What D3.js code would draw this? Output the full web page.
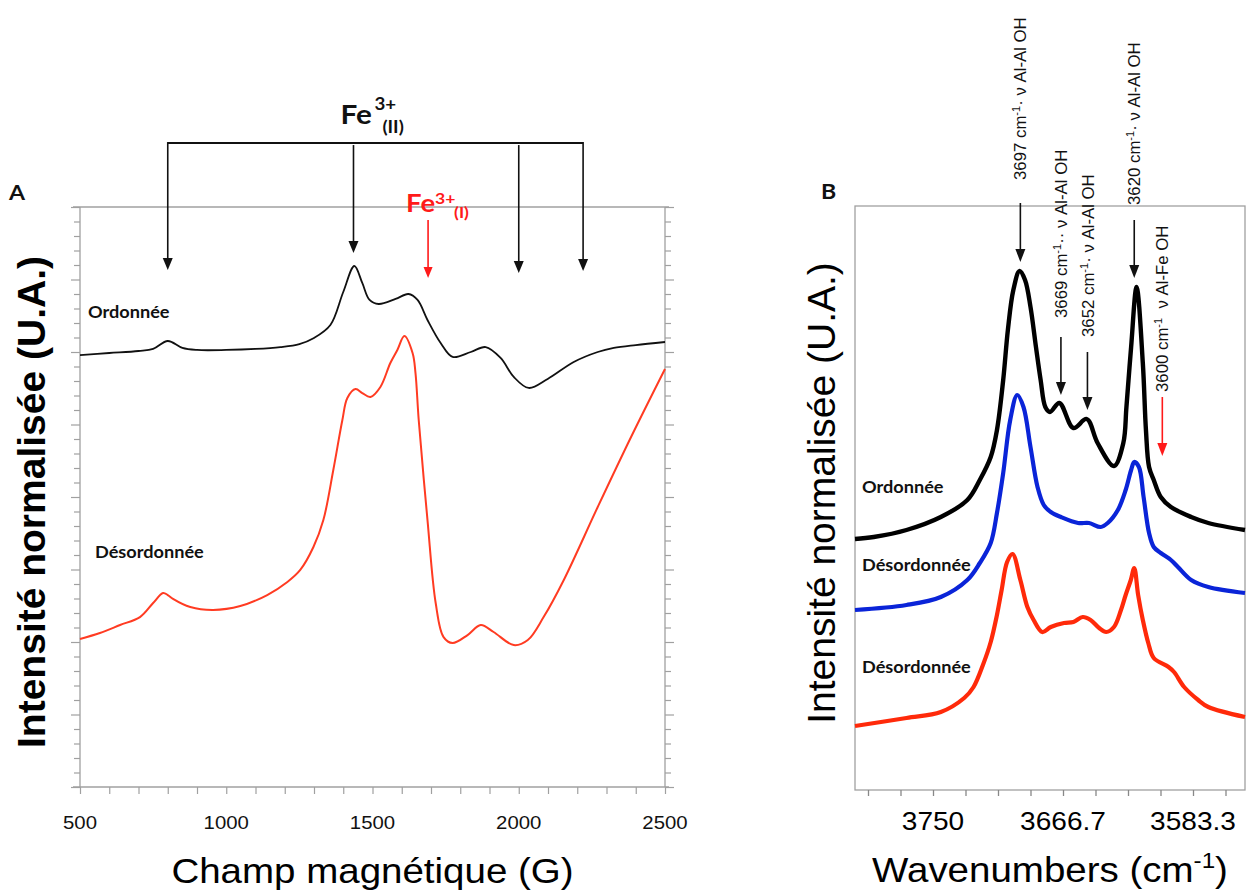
<!DOCTYPE html>
<html><head><meta charset="utf-8">
<script src="https://cdn.jsdelivr.net/npm/d3@7"></script>
<style>body{margin:0;background:#fff}</style>
</head><body>
<svg id="chart" width="1250" height="893"></svg>
<script>
// ---------------- DATA ----------------
// Panel A : EPR spectra (field in G, normalised intensity in arbitrary units)
const fieldOrd = [500,600,700,750,800,850,900,1000,1100,1185,1250,1300,1356,1400,1438,1465,1490,1521,1579,1623,1654,1688,1733,1774,1836,1887,1938,1983,2034,2099,2188,2270,2325,2400,2500];
const intOrd   = [29.79,29.93,30.07,30.21,30.76,30.28,30.14,30.14,30.21,30.34,30.55,30.97,31.86,34.14,35.93,34.76,33.59,33.31,33.66,34.00,33.59,32.21,30.62,29.66,30.00,30.34,29.59,28.28,27.52,28.14,29.31,30.00,30.28,30.48,30.69];
const fieldDes = [500,568,637,705,750,784,800,818,877,955,1048,1140,1209,1253,1298,1332,1366,1397,1414,1442,1465,1493,1527,1561,1585,1609,1637,1647,1658,1688,1716,1743,1774,1825,1870,1914,1983,2031,2085,2154,2270,2384,2500];
const intDes   = [10.21,10.62,11.17,11.72,12.69,13.38,13.24,12.97,12.41,12.21,12.48,13.24,14.14,14.97,16.55,18.41,21.86,25.31,26.83,27.45,27.17,26.90,27.59,29.24,30.14,31.10,29.93,28.55,25.31,18.41,12.69,10.34,9.93,10.48,11.17,10.69,9.79,10.14,11.72,14.28,19.31,24.14,28.83];
const xTicksA = [500,1000,1500,2000,2500];
const feIIFields = [800,1435,2000,2220];
const feIField = 1690;

// Panel B : IR spectra (wavenumber in cm-1, normalised intensity)
const wnOrd  = [3800,3788,3767,3745,3728,3720,3713,3709,3705,3702,3698.5,3694.5,3691,3687.5,3684,3681,3678,3675,3669,3660,3651.5,3644.5,3634,3628,3626,3623,3619.5,3615.5,3613.5,3611.5,3608.5,3604,3597.5,3584.5,3573.5,3550];
const irOrd  = [25.1,25.3,26.0,27.3,29.0,31.0,33.3,36.0,41.0,46.0,50.0,51.9,51.0,48.3,44.3,41.0,38.3,37.8,38.7,36.2,37.1,34.7,32.4,34.7,38.3,44.3,50.3,42.7,36.0,32.3,31.0,29.3,28.3,27.3,26.7,26.0];
const wnDes1 = [3800,3767,3745,3728,3720,3713,3709,3705,3700.5,3696,3692,3687.5,3683,3679,3674.5,3668,3657,3650,3642.5,3638,3631.5,3626.5,3623,3621,3618,3615,3611.5,3608.5,3604,3597.5,3593,3584.5,3573.5,3550];
const irDes1 = [18.0,18.5,19.3,21.0,22.7,24.7,27.7,31.7,37.0,39.5,38.3,34.3,30.3,28.5,27.8,27.3,26.7,26.7,26.3,26.7,28.0,30.0,32.0,32.8,32.3,29.3,25.7,24.3,23.7,23.0,22.3,21.0,20.3,19.7];
const wnDes2 = [3800,3767,3745,3730,3724,3718,3713,3709,3706,3702.5,3699,3694,3689.5,3685.5,3680,3674.5,3666,3660,3654,3649,3643.5,3639,3634,3629.5,3626.5,3623.2,3621,3618.5,3615.5,3612,3608.5,3599,3595.5,3589,3580,3573.5,3550];
const irDes2 = [6.4,7.2,7.8,9.2,10.3,12.5,14.8,17.5,20.0,22.8,23.6,21.0,18.3,17.0,15.8,16.3,16.7,16.8,17.3,17.0,16.2,15.8,16.3,18.0,19.5,21.0,22.2,19.5,17.0,14.7,13.2,12.3,11.8,10.3,9.0,8.3,7.3];
const xTicksB = [3750,3666.667,3583.333];
const xTickLabelsB = ["3750","3666.7","3583.3"];
const irBands = [3694,3668,3651,3621,3603];
const irBandNums = ["3697","3669","3652","3620","3600"];
const irBandAfter = ["\u00b7 \u03bd Al-Al OH","\u00b7\u00b7 \u03bd Al-Al OH","\u00b7 \u03bd Al-Al OH","\u00b7 \u03bd Al-Al OH","\u00a0\u00a0\u03bd Al-Fe OH"];

// ---------------- STYLE ----------------
const SANS = "'Liberation Sans', Arial, Helvetica, sans-serif";
const CAL = "Lato, 'Open Sans', sans-serif";
const AX = "#a0a0a0";
const svg = d3.select("#chart");

function hText(parent, x, y, anchor) {
  return parent.append("text")
    .attr("transform", `translate(${x},${y}) scale(1.1,1)`)
    .attr("text-anchor", anchor);
}
function arrow(parent, x, y1, y2, color, w, h, sw) {
  parent.append("line").attr("x1", x).attr("x2", x).attr("y1", y1).attr("y2", y2 - h + 1)
    .attr("stroke", color).attr("stroke-width", sw);
  parent.append("path").attr("d", `M${x - w/2},${y2 - h}L${x + w/2},${y2 - h}L${x},${y2}Z`).attr("fill", color);
}

// ================= PANEL A =================
const xA = d3.scaleLinear().domain([500, 2500]).range([80, 665]);
const yA = d3.scaleLinear().domain([0, 40]).range([787, 207]);
const gA = svg.append("g");

gA.append("line").attr("x1", xA(500) - 7).attr("x2", xA(2500) + 4).attr("y1", yA(40)).attr("y2", yA(40)).attr("stroke", AX).attr("stroke-width", 1.3);
gA.append("line").attr("x1", xA(500) - 7).attr("x2", xA(2500) + 4).attr("y1", yA(0)).attr("y2", yA(0)).attr("stroke", AX).attr("stroke-width", 1.3);
gA.append("line").attr("x1", xA(500)).attr("x2", xA(500)).attr("y1", yA(40)).attr("y2", yA(0)).attr("stroke", AX).attr("stroke-width", 1.3);
gA.append("line").attr("x1", xA(2500)).attr("x2", xA(2500)).attr("y1", yA(40)).attr("y2", yA(0)).attr("stroke", AX).attr("stroke-width", 1.3);

const axB = gA.append("g").attr("transform", `translate(0,${yA(0)})`)
  .call(d3.axisBottom(xA).tickValues(d3.range(500, 2501, 100)).tickSize(7).tickFormat(""));
const axL = gA.append("g").attr("transform", `translate(${xA(500)},0)`)
  .call(d3.axisLeft(yA).tickValues(d3.range(0, 41, 1)).tickSize(6).tickFormat(""));
const axR = gA.append("g").attr("transform", `translate(${xA(2500)},0)`)
  .call(d3.axisRight(yA).tickValues(d3.range(0, 41, 1)).tickSize(6).tickFormat(""));
[axB, axL, axR].forEach(a => { a.select(".domain").remove(); a.selectAll(".tick line").attr("stroke", AX).attr("stroke-width", 1.2); });
axL.selectAll(".tick").filter(d => d % 5 === 0).select("line").attr("x2", -9);
axR.selectAll(".tick").filter(d => d % 5 === 0).select("line").attr("x2", 9);

xTicksA.forEach(v => {
  hText(gA, xA(v), 829, "middle").attr("font-family", SANS).attr("font-size", 18.5).attr("fill", "#111").text(v);
});
hText(gA, xA(1500), 883, "middle").attr("font-family", SANS).attr("font-size", 35).attr("fill", "#000").text("Champ magn\u00e9tique (G)");
svg.append("text").attr("transform", "translate(45,502) rotate(-90)").attr("text-anchor", "middle")
  .attr("font-family", SANS).attr("font-weight", "bold").attr("font-size", 39).attr("fill", "#000")
  .text("Intensit\u00e9 normalis\u00e9e (U.A.)");

const lineA = d3.line().x(d => xA(d[0])).y(d => yA(d[1])).curve(d3.curveCatmullRom.alpha(0.5));
gA.append("path").datum(d3.zip(fieldDes, intDes)).attr("d", lineA).attr("fill", "none").attr("stroke", "#ff3b22").attr("stroke-width", 2);
gA.append("path").datum(d3.zip(fieldOrd, intOrd)).attr("d", lineA).attr("fill", "none").attr("stroke", "#111").attr("stroke-width", 1.8);

hText(gA, 88, 318, "start").attr("font-family", CAL).attr("font-weight", "bold").attr("font-size", 16.5).attr("fill", "#111").text("Ordonn\u00e9e");
hText(gA, 95, 558, "start").attr("font-family", CAL).attr("font-weight", "bold").attr("font-size", 16.5).attr("fill", "#111").text("D\u00e9sordonn\u00e9e");

const brY = yA(44.41);
gA.append("line").attr("x1", xA(feIIFields[0])).attr("x2", xA(feIIFields[3])).attr("y1", brY).attr("y2", brY).attr("stroke", "#111").attr("stroke-width", 2);
const feIITips = [35.66, 36.83, 35.45, 35.59];
feIIFields.forEach((f, i) => arrow(gA, xA(f), brY + ((i === 0 || i === 3) ? -1 : 2), yA(feIITips[i]), "#111", 10, 12, 1.6));
const feCx = xA((feIIFields[0] + feIIFields[3]) / 2);
hText(gA, feCx - 35, 124, "start").attr("font-family", CAL).attr("font-weight", "bold").attr("font-size", 27).attr("fill", "#111").text("Fe");
hText(gA, feCx - 1, 110, "start").attr("font-family", CAL).attr("font-weight", "bold").attr("font-size", 17).attr("fill", "#111").text("3+");
hText(gA, feCx + 7, 133, "start").attr("font-family", CAL).attr("font-weight", "bold").attr("font-size", 17).attr("fill", "#111").text("(II)");

const feIx = xA(feIField);
arrow(gA, feIx, yA(39.10), yA(35.10), "#ff1a1a", 9, 11, 1.6);
hText(gA, feIx - 22, 212, "start").attr("font-family", CAL).attr("font-weight", "bold").attr("font-size", 25).attr("fill", "#ff1a1a").text("Fe");
hText(gA, feIx + 7, 204, "start").attr("font-family", CAL).attr("font-weight", "bold").attr("font-size", 16).attr("fill", "#ff1a1a").text("3+");
hText(gA, feIx + 26, 218, "start").attr("font-family", CAL).attr("font-weight", "bold").attr("font-size", 16).attr("fill", "#ff1a1a").text("(I)");

hText(svg, 9, 200, "start").attr("font-family", CAL).attr("font-weight", "bold").attr("font-size", 21).attr("fill", "#111").text("A");

// ================= PANEL B =================
const xB = d3.scaleLinear().domain([3800, 3550]).range([855, 1245]);
const yB = d3.scaleLinear().domain([0, 58.4]).range([790, 206]);
const gB = svg.append("g");

gB.append("rect").attr("x", xB(3800)).attr("y", yB(58.4)).attr("width", xB(3550) - xB(3800)).attr("height", yB(0) - yB(58.4))
  .attr("fill", "none").attr("stroke", AX).attr("stroke-width", 1.3);
const tickValsB = d3.range(0, 12).map(k => 3562.5 + k * 250 / 12);
const axBB = gB.append("g").attr("transform", `translate(0,${yB(0)})`)
  .call(d3.axisBottom(xB).tickValues(tickValsB).tickSize(6).tickFormat(""));
axBB.select(".domain").remove();
axBB.selectAll(".tick line").attr("stroke", "#888").attr("stroke-width", 1.3);

xTicksB.forEach((v, i) => {
  hText(gB, xB(v), 830, "middle").attr("font-family", SANS).attr("font-size", 25.5).attr("fill", "#000").text(xTickLabelsB[i]);
});
const tB = hText(gB, xB(3675), 882, "middle").attr("font-family", SANS).attr("font-size", 35).attr("fill", "#000");
tB.append("tspan").text("Wavenumbers (cm");
tB.append("tspan").attr("font-size", 22).attr("dy", -14).text("-1");
tB.append("tspan").attr("dy", 14).text(")");
svg.append("text").attr("transform", "translate(835,493) rotate(-90)").attr("text-anchor", "middle")
  .attr("font-family", SANS).attr("font-size", 39).attr("fill", "#000")
  .text("Intensit\u00e9 normalis\u00e9e (U.A.)");

const lineB = d3.line().x(d => xB(d[0])).y(d => yB(d[1])).curve(d3.curveCatmullRom.alpha(0.5));
gB.append("path").datum(d3.zip(wnDes2, irDes2)).attr("d", lineB).attr("fill", "none").attr("stroke", "#ff2a0a").attr("stroke-width", 4.2).attr("stroke-linejoin", "round");
gB.append("path").datum(d3.zip(wnDes1, irDes1)).attr("d", lineB).attr("fill", "none").attr("stroke", "#0a24d8").attr("stroke-width", 4.2).attr("stroke-linejoin", "round");
gB.append("path").datum(d3.zip(wnOrd, irOrd)).attr("d", lineB).attr("fill", "none").attr("stroke", "#000").attr("stroke-width", 4.4).attr("stroke-linejoin", "round");

hText(gB, 862, 493, "start").attr("font-family", CAL).attr("font-weight", "bold").attr("font-size", 16.5).attr("fill", "#111").text("Ordonn\u00e9e");
hText(gB, 862, 571, "start").attr("font-family", CAL).attr("font-weight", "bold").attr("font-size", 16.5).attr("fill", "#111").text("D\u00e9sordonn\u00e9e");
hText(gB, 862, 673, "start").attr("font-family", CAL).attr("font-weight", "bold").attr("font-size", 16.5).attr("fill", "#111").text("D\u00e9sordonn\u00e9e");

const bandTextBase = [61.0, 47.2, 45.3, 58.5, 39.8];
const bandArrowTop = [58.7, 45.3, 43.8, 57.0, 39.3];
const bandArrowTip = [52.8, 39.5, 38.0, 51.2, 33.4];
irBands.forEach((wn, i) => {
  const x = xB(wn);
  const t = gB.append("text").attr("transform", `translate(${x},${yB(bandTextBase[i])}) rotate(-90)`)
    .attr("dy", "0.36em").attr("font-family", SANS).attr("font-size", 16.8).attr("fill", "#111");
  t.append("tspan").text(irBandNums[i] + " cm");
  t.append("tspan").attr("font-size", 11).attr("dy", -6).text("-1");
  t.append("tspan").attr("dy", 6).text(irBandAfter[i]);
  arrow(gB, x, yB(bandArrowTop[i]), yB(bandArrowTip[i]), i === 4 ? "#ff1a1a" : "#111", 10, 13, 1.6);
});

hText(svg, 821, 199, "start").attr("font-family", CAL).attr("font-weight", "bold").attr("font-size", 21).attr("fill", "#111").text("B");
</script>
</body></html>
